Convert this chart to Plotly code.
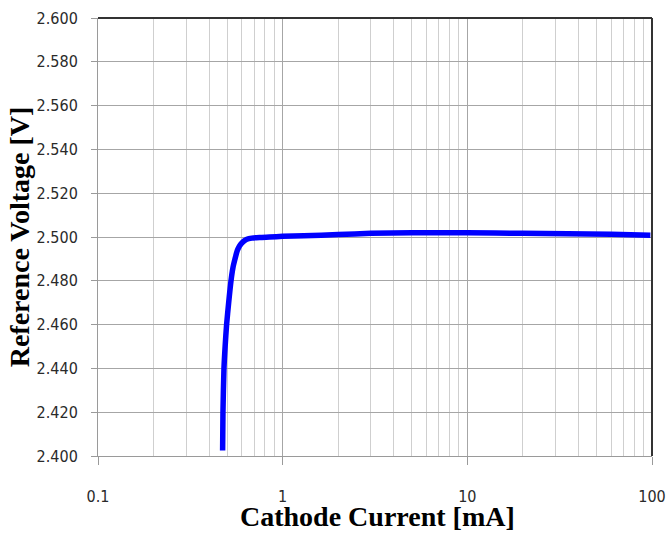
import plotly.graph_objects as go

current_ma = [0.473, 0.475, 0.481, 0.488, 0.497, 0.510, 0.525, 0.538, 0.552, 0.568,
              0.585, 0.600, 0.620, 0.640, 0.680, 0.75, 0.85, 1.0, 1.3, 2.0,
              3.0, 5.0, 10, 20, 35, 60, 98]
voltage_v = [2.4025, 2.420, 2.440, 2.450, 2.460, 2.470, 2.480, 2.486, 2.490, 2.4938,
             2.4960, 2.4972, 2.4983, 2.4990, 2.4995, 2.4998, 2.5000, 2.5003, 2.5006, 2.5011,
             2.5017, 2.5019, 2.5019, 2.5017, 2.5015, 2.5012, 2.5008]

x_ticks = [0.1, 1, 10, 100]
x_tick_labels = ["0.1", "1", "10", "100"]

tick_font = dict(family="DejaVu Sans Condensed, DejaVu Sans", size=16, color="#2a2a2a")
title_font = dict(family="Liberation Serif", size=28, color="black")

fig = go.Figure()
fig.add_trace(go.Scatter(
    x=current_ma, y=voltage_v, mode="lines",
    line=dict(color="#0000ff", width=5.5, shape="spline", smoothing=0.6),
    showlegend=False, hoverinfo="skip",
))

fig.update_layout(
    width=668, height=533,
    margin=dict(l=98, r=16, t=18, b=77, pad=0),
    paper_bgcolor="white", plot_bgcolor="white",
    showlegend=False,
)

fig.update_xaxes(
    type="log", range=[-1, 2], automargin=False,
    tickmode="array", tickvals=x_ticks, ticktext=x_tick_labels,
    showgrid=True, gridcolor="#a6a6a6", gridwidth=1,
    minor=dict(tickmode="array",
               tickvals=[m * d for d in (0.1, 1, 10) for m in range(2, 10)],
               showgrid=True, gridcolor="#cfcfcf", gridwidth=1, ticks=""),
    showline=True, linecolor="#9a9a9a", linewidth=1,
    ticks="outside", ticklen=8, tickcolor="#9a9a9a",
    tickfont=tick_font, ticklabelstandoff=18,
    zeroline=False,
)

fig.update_yaxes(
    range=[2.4, 2.6], dtick=0.02, tick0=2.4, tickformat=".3f", automargin=False,
    showgrid=True, gridcolor="#a6a6a6", gridwidth=1,
    showline=True, linecolor="#9a9a9a", linewidth=1,
    ticks="outside", ticklen=6, tickcolor="#9a9a9a",
    tickfont=tick_font, ticklabelstandoff=10,
    zeroline=False,
)

# dark top and right frame
fig.add_shape(type="line", xref="paper", yref="paper", x0=0, x1=1, y0=1, y1=1,
              line=dict(color="#333333", width=2))
fig.add_shape(type="line", xref="paper", yref="paper", x0=1, x1=1, y0=0, y1=1,
              line=dict(color="#333333", width=2))

fig.add_annotation(text="<b>Cathode Current [mA]</b>", xref="paper", yref="paper",
                   x=0.504, y=-0.137, xanchor="center", yanchor="middle",
                   showarrow=False, font=title_font)
fig.add_annotation(text="<b>Reference Voltage [V]</b>", xref="paper", yref="paper",
                   x=-0.142, y=0.5, xanchor="center", yanchor="middle",
                   textangle=-90, showarrow=False, font=title_font)

fig.write_html("out.html")
